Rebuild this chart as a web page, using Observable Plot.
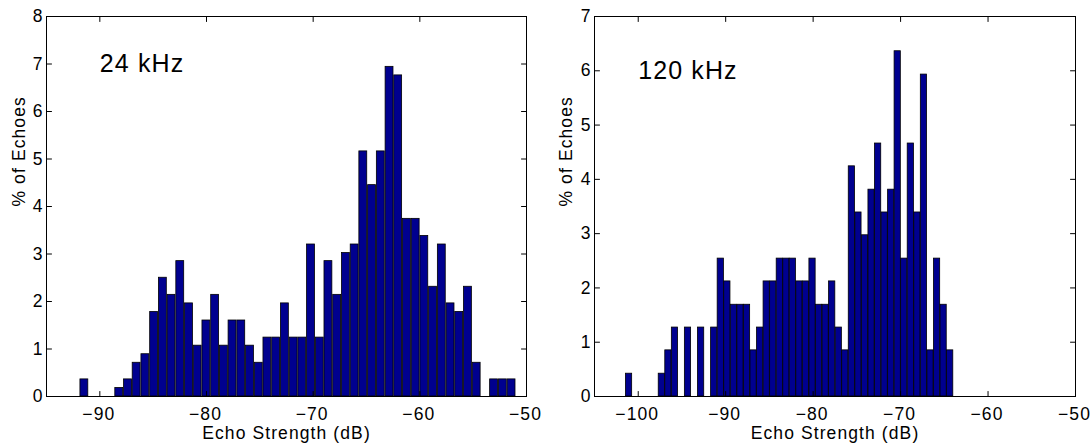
<!DOCTYPE html>
<html><head><meta charset="utf-8">
<script src="https://cdn.jsdelivr.net/npm/d3@7"></script>
<script src="https://cdn.jsdelivr.net/npm/@observablehq/plot@0.6"></script>
<style>
body{margin:0;background:#fff;}
#wrap{display:flex;width:1090px;height:445px;}
svg{display:block;overflow:visible}
svg text{letter-spacing:1.1px}
g[aria-label="panel-label"] text{letter-spacing:0.3px}
</style></head><body><div id="wrap"></div>
<script>
// ---- data ----
const centers24 = [-91.45,-90.63,-89.82,-89.00,-88.18,-87.36,-86.55,-85.73,-84.91,-84.09,
  -83.28,-82.46,-81.64,-80.83,-80.01,-79.19,-78.37,-77.56,-76.74,-75.92,
  -75.10,-74.29,-73.47,-72.65,-71.83,-71.02,-70.20,-69.38,-68.57,-67.75,
  -66.93,-66.11,-65.30,-64.48,-63.66,-62.84,-62.03,-61.21,-60.39,-59.58,
  -58.76,-57.94,-57.12,-56.31,-55.49,-54.67,-53.85,-53.04,-52.22,-51.40];
const pct24 = [0.36,0,0,0,0.18,0.36,0.71,0.89,1.78,2.50,
  2.14,2.85,1.96,1.07,1.60,2.14,1.07,1.60,1.60,1.07,
  0.71,1.24,1.24,1.96,1.24,1.24,3.20,1.24,2.85,2.14,
  3.02,3.20,5.16,4.45,5.16,6.94,6.76,3.74,3.74,3.38,
  2.31,3.20,1.96,1.78,2.31,0.71,0,0.36,0.36,0.36];
const centers120 = [-101.05,-100.30,-99.55,-98.80,-98.05,-97.30,-96.55,-95.80,-95.05,-94.31,
  -93.56,-92.81,-92.06,-91.31,-90.56,-89.81,-89.06,-88.31,-87.56,-86.81,
  -86.06,-85.31,-84.56,-83.81,-83.06,-82.32,-81.57,-80.82,-80.07,-79.32,
  -78.57,-77.82,-77.07,-76.32,-75.57,-74.82,-74.07,-73.32,-72.57,-71.82,
  -71.07,-70.33,-69.58,-68.83,-68.08,-67.33,-66.58,-65.83,-65.08,-64.33];
const pct120 = [0.42,0,0,0,0,0.42,0.85,1.27,0,1.27,
  0,1.27,0,1.27,2.54,2.12,1.69,1.69,1.69,0.85,
  1.27,2.12,2.12,2.54,2.54,2.54,2.12,2.12,2.54,1.69,
  1.69,2.12,1.27,0.85,4.24,3.39,2.97,3.81,4.66,3.39,
  3.81,6.36,2.54,4.66,3.39,5.93,0.85,2.54,1.69,0.85];
const xTicks24 = [-90,-80,-70,-60,-50];
const yTicks24 = [0,1,2,3,4,5,6,7,8];
const xTicks120 = [-100,-90,-80,-70,-60,-50];
const yTicks120 = [0,1,2,3,4,5,6,7];
const panelLabels = ["24 kHz","120 kHz"];
const xTitle = "Echo Strength (dB)";
const yTitle = "% of Echoes";

const FONT = "'Liberation Sans', Arial, Helvetica, sans-serif";
const fmt = d3.format("d");
const tickShape = {draw(ctx, l){ ctx.moveTo(0,0); ctx.lineTo(0,-l); }};

function panel({centers, values, xDomain, yDomain, xTicks, yTicks, label, labelAt,
                marginLeft, marginRight, barFrac, yTitleDx}) {
  const hw = (centers[1]-centers[0]) * barFrac / 2;
  const bins = centers.map((c,i)=>({x1:c-hw, x2:c+hw, y:values[i]}));
  const tk = {length:5, anchor:"start", shape:tickShape, stroke:"black", strokeWidth:1};
  return Plot.plot({
    width:545, height:445,
    marginLeft, marginRight, marginTop:16, marginBottom:49,
    style:{fontFamily:FONT, fontSize:"17.5px", color:"black", background:"white", overflow:"visible"},
    x:{domain:xDomain},
    y:{domain:yDomain},
    marks:[
      Plot.rectY(bins, {x1:"x1", x2:"x2", y1:0, y2:"y", fill:"#00008f", stroke:"black", strokeWidth:0.8}),
      Plot.vector(yTicks, {...tk, x:xDomain[0], y:d=>d, rotate:90}),
      Plot.vector(yTicks, {...tk, x:xDomain[1], y:d=>d, rotate:-90}),
      Plot.vector(xTicks, {...tk, x:d=>d, y:yDomain[0], rotate:0}),
      Plot.vector(xTicks, {...tk, x:d=>d, y:yDomain[1], rotate:180}),
      Plot.frame({stroke:"black", strokeWidth:1}),
      Plot.axisX({ticks:xTicks, tickSize:0, tickPadding:11, dx:-1, tickFormat:fmt, label:null, fontSize:17.5}),
      Plot.axisY({ticks:yTicks, tickSize:0, tickPadding:3, tickFormat:fmt, label:null, fontSize:17.5}),
      Plot.text([label], {x:labelAt[0], y:labelAt[1], text:d=>d, textAnchor:"start", fontSize:25, fill:"black", ariaLabel:"panel-label"}),
      Plot.text([xTitle], {frameAnchor:"bottom", lineAnchor:"bottom", dy:42.5, text:d=>d, fontSize:17.5, fill:"black"}),
      Plot.text([yTitle], {frameAnchor:"left", lineAnchor:"bottom", rotate:-90, dx:yTitleDx, text:d=>d, fontSize:17.5, fill:"black"})
    ]
  });
}

const wrap = document.getElementById("wrap");
wrap.appendChild(panel({centers:centers24, values:pct24, xDomain:[-95,-50], yDomain:[0,8],
  xTicks:xTicks24, yTicks:yTicks24, label:panelLabels[0], labelAt:[-90,7],
  marginLeft:46, marginRight:19, barFrac:0.9, yTitleDx:-22}));
wrap.appendChild(panel({centers:centers120, values:pct120, xDomain:[-105,-50], yDomain:[0,7],
  xTicks:xTicks120, yTicks:yTicks120, label:panelLabels[1], labelAt:[-100,6],
  marginLeft:49, marginRight:15, barFrac:0.95, yTitleDx:-23}));
</script></body></html>
